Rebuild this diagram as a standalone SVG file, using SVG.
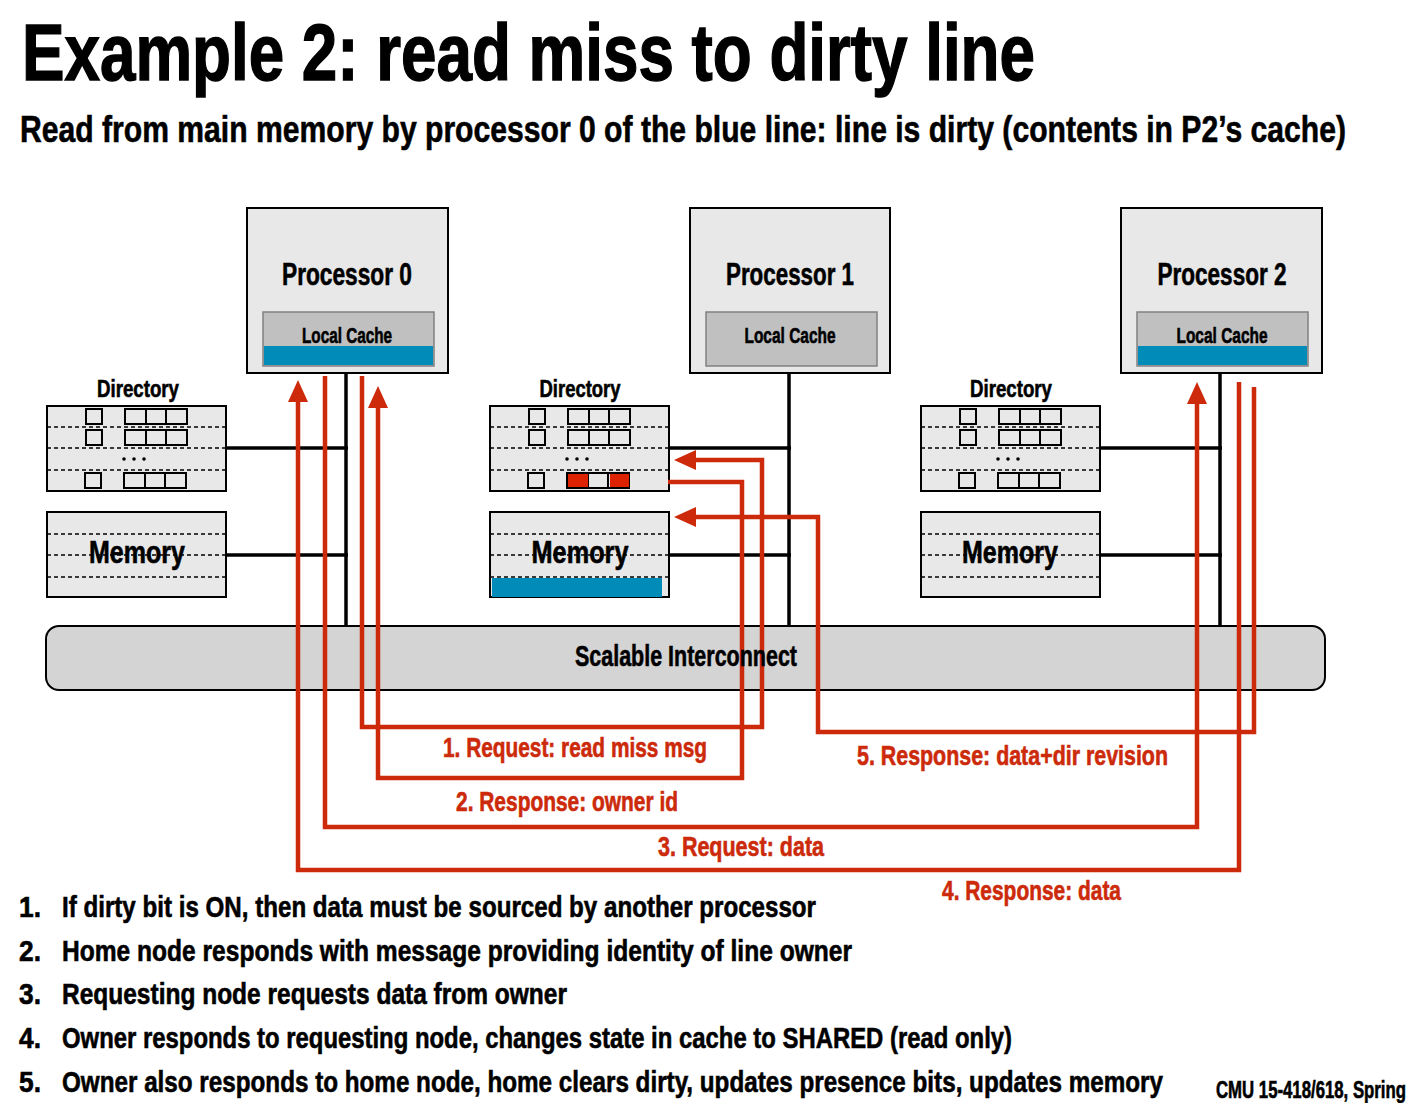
<svg xmlns="http://www.w3.org/2000/svg" width="1409" height="1103" viewBox="0 0 1409 1103">
<style>
text{font-family:"Liberation Sans Narrow","Liberation Sans",Arial,sans-serif;font-weight:bold;fill:#000;stroke:#000;stroke-width:0.6}
text.red{fill:#cc2a0a;stroke:#cc2a0a}
text.big{stroke-width:1.4}
.proc{fill:#e8e8e8;stroke:#000;stroke-width:2}
.cache{fill:#c0c0c0;stroke:#808080;stroke-width:1.5}
.blue{fill:#008bb8}
.box{fill:#e8e8e8;stroke:#000;stroke-width:2}
.dash{stroke:#000;stroke-width:1.6;stroke-dasharray:4 3;fill:none}
.cell{fill:#e8e8e8;stroke:#000;stroke-width:2}
.wire{stroke:#000;stroke-width:3.5;fill:none}
.msg{stroke:#cc2a0a;stroke-width:4.5;fill:none;stroke-linejoin:miter}
</style>
<defs>
<marker id="ah" markerUnits="userSpaceOnUse" markerWidth="22" markerHeight="22" viewBox="0 0 22 22" refX="4" refY="11" orient="auto">
<path d="M0,1 L22,11 L0,21 z" fill="#cc2a0a"/>
</marker>
<g id="dirgrid">
<rect class="box" x="0" y="0" width="179" height="85"/>
<line class="dash" x1="0" y1="21" x2="179" y2="21"/>
<line class="dash" x1="0" y1="42" x2="179" y2="42"/>
<line class="dash" x1="0" y1="64" x2="179" y2="64"/>
<rect class="cell" x="39" y="3" width="16" height="15"/>
<rect class="cell" x="78" y="3" width="62" height="15"/>
<line x1="99" y1="3" x2="99" y2="18" stroke="#000" stroke-width="2"/>
<line x1="119" y1="3" x2="119" y2="18" stroke="#000" stroke-width="2"/>
<rect class="cell" x="39" y="24" width="16" height="15"/>
<rect class="cell" x="78" y="24" width="62" height="15"/>
<line x1="99" y1="24" x2="99" y2="39" stroke="#000" stroke-width="2"/>
<line x1="119" y1="24" x2="119" y2="39" stroke="#000" stroke-width="2"/>
<circle cx="77" cy="53" r="1.8"/>
<circle cx="87" cy="53" r="1.8"/>
<circle cx="97" cy="53" r="1.8"/>
<rect class="cell" x="38" y="67" width="16" height="15"/>
<rect class="cell" x="77" y="67" width="62" height="15"/>
<line x1="98" y1="67" x2="98" y2="82" stroke="#000" stroke-width="2"/>
<line x1="118" y1="67" x2="118" y2="82" stroke="#000" stroke-width="2"/>
</g>
<g id="memgrid">
<rect class="box" x="0" y="0" width="179" height="85"/>
<line class="dash" x1="0" y1="22" x2="179" y2="22"/>
<line class="dash" x1="0" y1="43" x2="179" y2="43"/>
<line class="dash" x1="0" y1="65" x2="179" y2="65"/>
</g>
</defs>

<g id="title">
<text class="big" x="22" y="80" font-size="80" textLength="1013" lengthAdjust="spacingAndGlyphs">Example 2: read miss to dirty line</text>
<text x="20" y="142" font-size="37" textLength="1326" lengthAdjust="spacingAndGlyphs">Read from main memory by processor 0 of the blue line: line is dirty (contents in P2’s cache)</text>
</g>

<g id="interconnect">
<rect x="46" y="626" width="1279" height="64" rx="13" fill="#d4d4d4" stroke="#000" stroke-width="2"/>
</g>

<g id="wires">
<line class="wire" x1="346" y1="373" x2="346" y2="626"/>
<line class="wire" x1="226" y1="448" x2="348" y2="448"/>
<line class="wire" x1="226" y1="555" x2="348" y2="555"/>
<line class="wire" x1="789" y1="373" x2="789" y2="626"/>
<line class="wire" x1="668" y1="448" x2="791" y2="448"/>
<line class="wire" x1="668" y1="555" x2="791" y2="555"/>
<line class="wire" x1="1220" y1="373" x2="1220" y2="626"/>
<line class="wire" x1="1100" y1="448" x2="1222" y2="448"/>
<line class="wire" x1="1100" y1="555" x2="1222" y2="555"/>
</g>

<g id="processor0">
<rect class="proc" x="247" y="208" width="201" height="165"/>
<text x="347" y="285" font-size="32" text-anchor="middle" textLength="130" lengthAdjust="spacingAndGlyphs">Processor 0</text>
<rect class="cache" x="263" y="312" width="171" height="54"/>
<rect class="blue" x="264" y="346" width="169" height="19"/>
<text x="347" y="343" font-size="22" text-anchor="middle" textLength="90" lengthAdjust="spacingAndGlyphs">Local Cache</text>
</g>
<g id="processor1">
<rect class="proc" x="690" y="208" width="200" height="165"/>
<text x="790" y="285" font-size="32" text-anchor="middle" textLength="128" lengthAdjust="spacingAndGlyphs">Processor 1</text>
<rect class="cache" x="706" y="312" width="171" height="54"/>
<text x="790" y="343" font-size="22" text-anchor="middle" textLength="91" lengthAdjust="spacingAndGlyphs">Local Cache</text>
</g>
<g id="processor2">
<rect class="proc" x="1121" y="208" width="201" height="165"/>
<text x="1222" y="285" font-size="32" text-anchor="middle" textLength="129" lengthAdjust="spacingAndGlyphs">Processor 2</text>
<rect class="cache" x="1137" y="312" width="171" height="54"/>
<rect class="blue" x="1138" y="346" width="169" height="19"/>
<text x="1222" y="343" font-size="22" text-anchor="middle" textLength="91" lengthAdjust="spacingAndGlyphs">Local Cache</text>
</g>

<g id="directory0">
<text x="138" y="397" font-size="23" text-anchor="middle" textLength="82" lengthAdjust="spacingAndGlyphs">Directory</text>
<use href="#dirgrid" x="47" y="406"/>
</g>
<g id="memory0">
<use href="#memgrid" x="47" y="512"/>
<text x="137" y="563" font-size="32" text-anchor="middle" textLength="96" lengthAdjust="spacingAndGlyphs">Memory</text>
</g>

<g id="directory1">
<text x="580" y="397" font-size="23" text-anchor="middle" textLength="81" lengthAdjust="spacingAndGlyphs">Directory</text>
<use href="#dirgrid" x="490" y="406"/>
<rect x="568" y="474" width="20" height="13" fill="#dd2200"/>
<rect x="610" y="474" width="19" height="13" fill="#dd2200"/>
</g>
<g id="memory1">
<use href="#memgrid" x="490" y="512"/>
<rect class="blue" x="492" y="578" width="170" height="19"/>
<text x="580" y="563" font-size="32" text-anchor="middle" textLength="97" lengthAdjust="spacingAndGlyphs">Memory</text>
</g>

<g id="directory2">
<text x="1011" y="397" font-size="23" text-anchor="middle" textLength="82" lengthAdjust="spacingAndGlyphs">Directory</text>
<use href="#dirgrid" x="921" y="406"/>
</g>
<g id="memory2">
<use href="#memgrid" x="921" y="512"/>
<text x="1010" y="563" font-size="32" text-anchor="middle" textLength="96" lengthAdjust="spacingAndGlyphs">Memory</text>
</g>

<g id="connectors">
<polyline class="msg" points="362,376 362,727 762,727 762,460 692,460" marker-end="url(#ah)"/>
<polyline class="msg" points="668,482 742,482 742,778 378,778 378,404" marker-end="url(#ah)"/>
<polyline class="msg" points="325,376 325,827 1197,827 1197,400" marker-end="url(#ah)"/>
<polyline class="msg" points="1239,382 1239,870 298,870 298,398" marker-end="url(#ah)"/>
<polyline class="msg" points="1254,387 1254,732 818,732 818,517 692,517" marker-end="url(#ah)"/>
</g>

<g id="interconnect-label">
<text x="686" y="666" font-size="30" text-anchor="middle" textLength="222" lengthAdjust="spacingAndGlyphs">Scalable Interconnect</text>
</g>

<g id="connector-labels">
<text class="red" x="443" y="757" font-size="28" textLength="264" lengthAdjust="spacingAndGlyphs">1. Request: read miss msg</text>
<text class="red" x="456" y="811" font-size="28" textLength="222" lengthAdjust="spacingAndGlyphs">2. Response: owner id</text>
<text class="red" x="658" y="856" font-size="28" textLength="166" lengthAdjust="spacingAndGlyphs">3. Request: data</text>
<text class="red" x="942" y="900" font-size="28" textLength="179" lengthAdjust="spacingAndGlyphs">4. Response: data</text>
<text class="red" x="857" y="765" font-size="28" textLength="311" lengthAdjust="spacingAndGlyphs">5. Response: data+dir revision</text>
</g>

<g id="notes">
<text x="19" y="917" font-size="30" textLength="22" lengthAdjust="spacingAndGlyphs">1.</text>
<text x="62" y="917" font-size="30" textLength="754" lengthAdjust="spacingAndGlyphs">If dirty bit is ON, then data must be sourced by another processor</text>
<text x="19" y="961" font-size="30" textLength="22" lengthAdjust="spacingAndGlyphs">2.</text>
<text x="62" y="961" font-size="30" textLength="790" lengthAdjust="spacingAndGlyphs">Home node responds with message providing identity of line owner</text>
<text x="19" y="1004" font-size="30" textLength="22" lengthAdjust="spacingAndGlyphs">3.</text>
<text x="62" y="1004" font-size="30" textLength="505" lengthAdjust="spacingAndGlyphs">Requesting node requests data from owner</text>
<text x="19" y="1048" font-size="30" textLength="22" lengthAdjust="spacingAndGlyphs">4.</text>
<text x="62" y="1048" font-size="30" textLength="950" lengthAdjust="spacingAndGlyphs">Owner responds to requesting node, changes state in cache to SHARED (read only)</text>
<text x="19" y="1092" font-size="30" textLength="22" lengthAdjust="spacingAndGlyphs">5.</text>
<text x="62" y="1092" font-size="30" textLength="1101" lengthAdjust="spacingAndGlyphs">Owner also responds to home node, home clears dirty, updates presence bits, updates memory</text>
<text x="1216" y="1098" font-size="23" textLength="190" lengthAdjust="spacingAndGlyphs">CMU 15-418/618, Spring</text>
</g>
</svg>
